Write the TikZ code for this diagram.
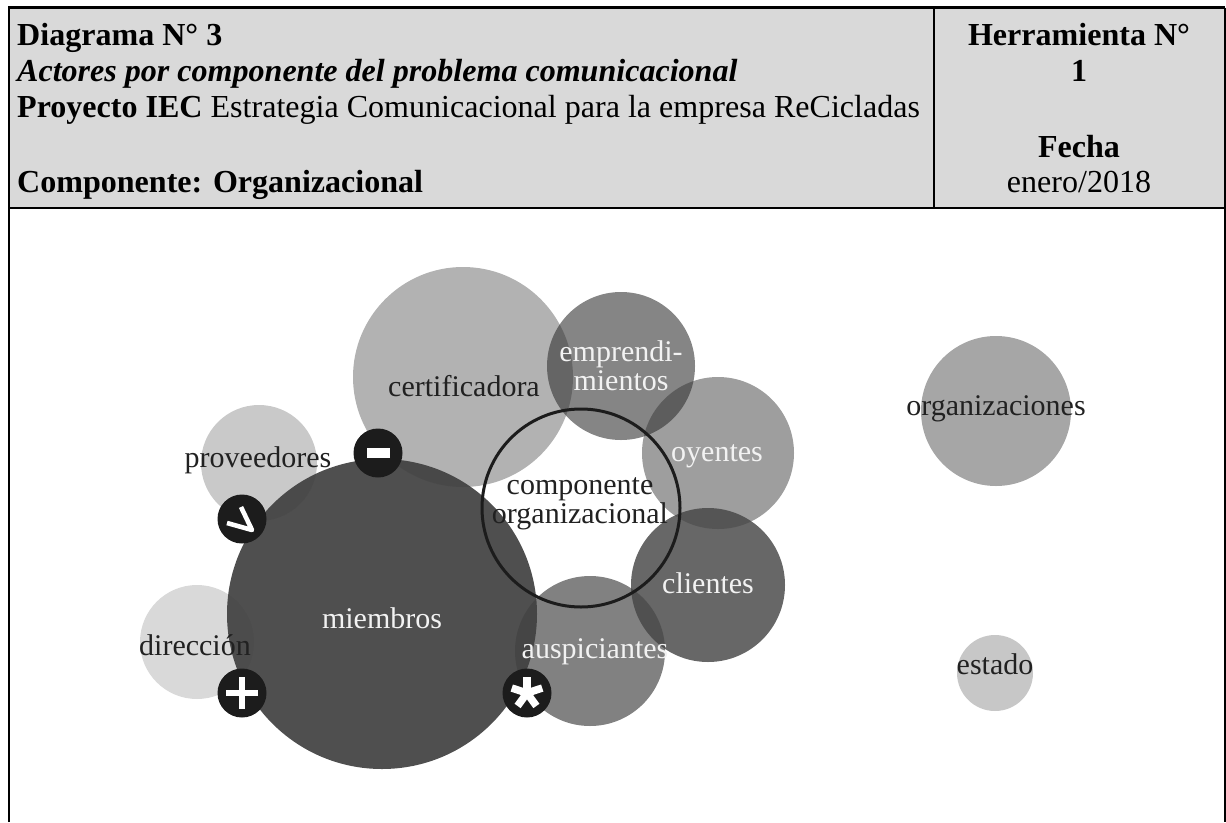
\documentclass[tikz,border=0pt]{standalone}
\usepackage{fontspec}
\setmainfont{Liberation Serif}
\tikzset{
  x=1pt,y=-1pt,
  bub/.style 2 args={circle,inner sep=0pt,minimum size=#1*2pt,draw=none,fill=#2},
  lab/.style={font=\fontsize{30}{29}\selectfont,align=center,inner sep=0pt,text=#1},
  hd/.style={font=\fontsize{32.05}{34}\selectfont,anchor=base west,inner sep=0pt,text=black},
  hc/.style={font=\fontsize{32.05}{34}\selectfont,anchor=base,inner sep=0pt,text=black},
  badge/.style={circle,fill=badgeblack,inner sep=0pt,minimum size=49pt},
  symline/.style={draw=white,line width=#1,line cap=butt,line join=miter},
  rule/.style={line width=2.4pt,draw=black},
}
\definecolor{hdrgray}{gray}{0.85}
\definecolor{badgeblack}{gray}{0.11}
\definecolor{darktxt}{gray}{0.13}
\definecolor{lighttxt}{gray}{0.95}
\begin{document}
\begin{tikzpicture}
\useasboundingbox (0,0) rectangle (1226,822);
\fill[hdrgray] (9,8) rectangle (1225,208);
\draw[rule] (9,822) -- (9,7.5) -- (1225,7.5);
\draw[rule] (9,208) -- (1225,208);
\draw[line width=1.6pt] (1225,7.5) -- (1225,822);
\draw[line width=1.6pt] (934,7.5) -- (934,208);
% header text
\node[hd] (h1) at (17,45) {\textbf{Diagrama N° 3}};
\node[hd] (h2) at (17,81) {\textit{\textbf{Actores por componente del problema comunicacional}}};
\node[hd] (h3) at (17,117) {\textbf{Proyecto IEC} Estrategia Comunicacional para la empresa ReCicladas};
\node[hd] (h4) at (17,192) {\textbf{Componente: Organizacional}};
\node[hc] (r1) at (1079,45) {\textbf{Herramienta N°}};
\node[hc] (r2) at (1079,81) {\textbf{1}};
\node[hc] (r3) at (1079,157) {\textbf{Fecha}};
\node[hc] (r4) at (1079,192) {enero/2018};
% bubbles
\node[bub={110}{black!30},fill opacity=1] (cert) at (463,377) {};
\node[bub={76}{black},fill opacity=0.38] (oyen) at (718,453) {};
\node[bub={74}{black!80},fill opacity=0.6] (empr) at (621,366) {};
\node[bub={75}{black!75},fill opacity=0.66] (ausp) at (590,651) {};
\node[bub={77}{black!73},fill opacity=0.82] (clie) at (708,585) {};
\node[bub={58}{black},fill opacity=0.21] (prov) at (259,463) {};
\node[bub={57}{black},fill opacity=0.15] (dire) at (197,642) {};
\node[bub={155}{black!75},fill opacity=0.92] (miem) at (382,614) {};
\node[bub={75}{black},fill opacity=0.35] (orga) at (996,411) {};
\node[bub={38}{black},fill opacity=0.22] (esta) at (995,673) {};
\node[circle,draw=badgeblack,line width=3pt,inner sep=0pt,minimum size=198pt] (ring) at (581,508) {};
% labels
\node[lab=darktxt] (lcert) at (464,386) {certificadora};
\node[lab=lighttxt] (lempr) at (621,366) {emprendi-\\mientos};
\node[lab=lighttxt] (loyen) at (717,456) {oyentes};
\node[lab=lighttxt] (lclie) at (708,583) {clientes};
\node[lab=lighttxt] (lausp) at (595,652) {auspiciantes};
\node[lab=darktxt] (lprov) at (258,460) {proveedores};
\node[lab=darktxt] (ldire) at (195,645) {dirección};
\node[lab=lighttxt] (lmiem) at (382,618) {miembros};
\node[lab=darktxt] (lorga) at (996,409) {organizaciones};
\node[lab=darktxt] (lesta) at (995,664) {estado};
\node[lab=darktxt] (lcomp) at (580,504) {componente\\organizacional};
% badges
\node[badge] (bminus) at (378,453) {};
\node[badge] (bv) at (242,519) {};
\node[badge] (bplus) at (242,693) {};
\node[badge] (bstar) at (527,693) {};
\fill[white] ([shift={(-11.5,-5)}]bminus.center) rectangle ([shift={(11.5,5)}]bminus.center);
\fill[white] ([shift={(-16,-3.4)}]bplus.center) rectangle ([shift={(16,3.4)}]bplus.center);
\fill[white] ([shift={(-3.4,-16)}]bplus.center) rectangle ([shift={(3.4,16)}]bplus.center);
\draw[symline=4.6pt,line join=round] ([shift={(-1,-12)}]bv.center) -- ([shift={(10,11)}]bv.center) -- ([shift={(-15,4)}]bv.center);
\foreach \a in {-90,-18,54,126,198}
  \draw[symline=7.5pt] (bstar.center) -- ++(\a:16);
\end{tikzpicture}
\end{document}
